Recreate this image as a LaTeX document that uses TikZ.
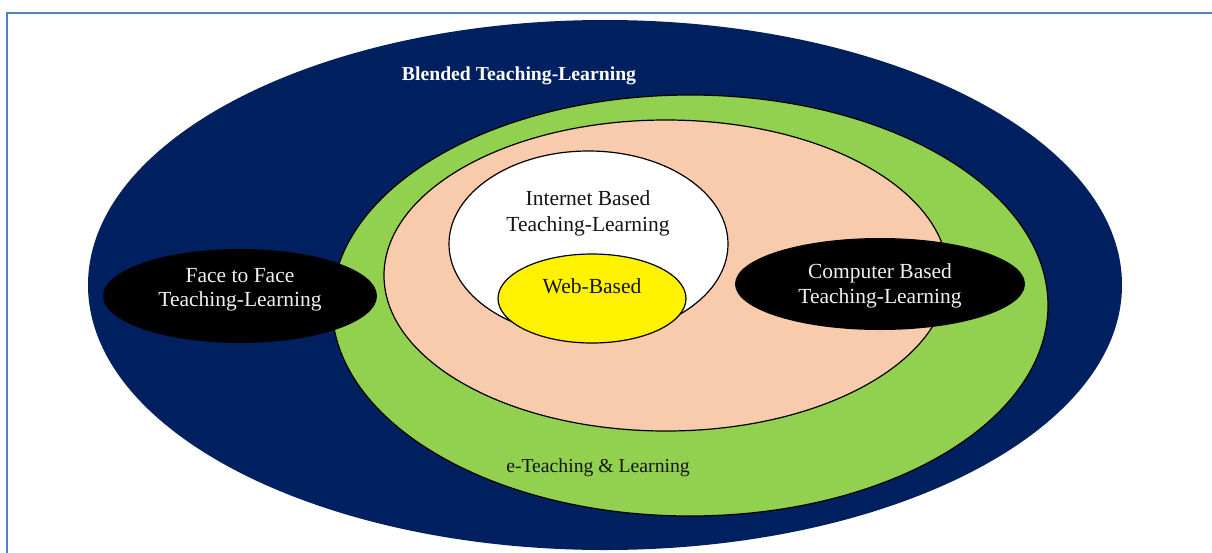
\documentclass[tikz,border=0pt]{standalone}
\usepackage{fontspec}
\setmainfont{Liberation Serif}
\usetikzlibrary{shapes.geometric}
\definecolor{navy}{HTML}{002060}
\definecolor{lgreen}{HTML}{92D050}
\definecolor{peach}{HTML}{F8CBAD}
\definecolor{frameblue}{HTML}{4F81BD}
\definecolor{txtdark}{HTML}{141414}
\begin{document}
\begin{tikzpicture}[x=1pt,y=-1pt,
  ring/.style={ellipse, inner sep=0pt, outer sep=0pt, line width=1.2pt, draw=black},
  blob/.style={ellipse, inner sep=0pt, outer sep=0pt, fill=black, draw=none},
  lbl/.style={anchor=base, inner sep=0pt, text=txtdark, font=\fontsize{21.5}{25}\selectfont},
  wlbl/.style={lbl, text=white!94!black},
  biglbl/.style={anchor=base, inner sep=0pt, font=\fontsize{19.7}{24}\selectfont}]
\useasboundingbox (0,0) rectangle (1212,552);
\fill[white] (0,0) rectangle (1212,552);
\draw[frameblue, line width=2.2pt] (7,13) rectangle (1240,580);

\node[ellipse, inner sep=0pt, fill=navy, minimum width=1034pt, minimum height=530pt] (blended) at (605,285) {};
\node[ring, fill=lgreen, minimum width=716pt, minimum height=421pt] (eteach) at (690,305.5) {};
\node[ring, fill=peach, minimum width=564pt, minimum height=311pt] (inner) at (666,275.5) {};
\node[ring, fill=white, minimum width=279pt, minimum height=186pt] (internet) at (588.5,244) {};
\node[ring, fill=yellow, minimum width=188pt, minimum height=89pt] (web) at (592,298.5) {};
\node[blob, minimum width=274pt, minimum height=94pt] (face) at (240,296) {};
\node[blob, minimum width=290pt, minimum height=92pt] (computer) at (880,284) {};

\node[biglbl, text=white, font=\fontsize{19.7}{24}\selectfont\bfseries] (tblend) at (519,80) {Blended Teaching-Learning};
\node[biglbl, text=txtdark] (tetl) at (598,472) {e-Teaching \& Learning};
\node[lbl] (tint1) at (588,205) {Internet Based};
\node[lbl] (tint2) at (588,231) {Teaching-Learning};
\node[lbl] (tweb) at (592,293) {Web-Based};
\node[wlbl] (tface1) at (240,282) {Face to Face};
\node[wlbl] (tface2) at (240,306) {Teaching-Learning};
\node[wlbl] (tcomp1) at (880,278) {Computer Based};
\node[wlbl] (tcomp2) at (880,303) {Teaching-Learning};
\end{tikzpicture}
\end{document}
